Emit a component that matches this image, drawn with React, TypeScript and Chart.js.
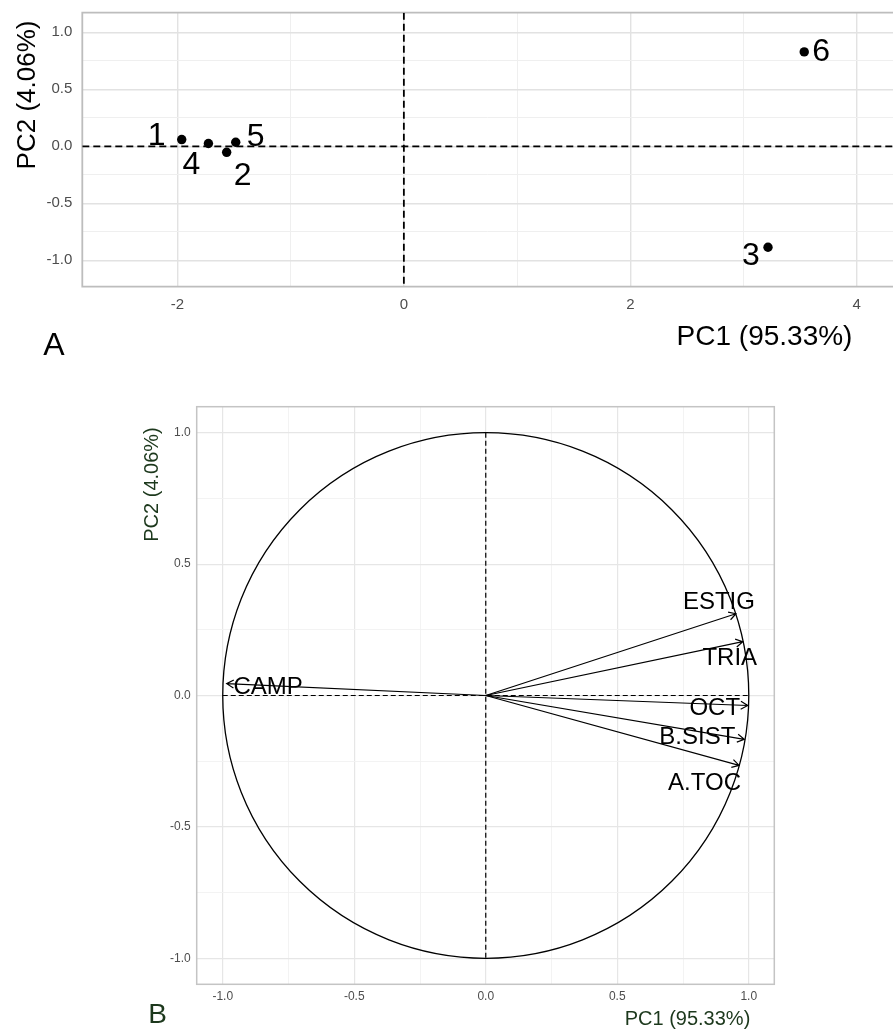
import React, { useEffect, useRef } from 'react';
import { Chart, registerables } from 'chart.js';

Chart.register(...registerables);

// ---------- Data (panel A: individuals) ----------
const sampleLabels = ['1', '2', '3', '4', '5', '6'];
const samplePC1 = [-1.962, -1.565, 3.216, -1.726, -1.485, 3.536];
const samplePC2 = [0.059, -0.053, -0.886, 0.024, 0.035, 0.828];

// ---------- Data (panel B: variables) ----------
const varNames = ['ESTIG', 'TRIA', 'OCT', 'B.SIST', 'A.TOC', 'CAMP'];
const varPC1 = [0.951, 0.977, 0.996, 0.983, 0.963, -0.985];
const varPC2 = [0.311, 0.205, -0.038, -0.167, -0.266, 0.045];

// ---------- Ticks ----------
const topXMajor = [-2, 0, 2, 4];
const topXMinor = [-1, 1, 3];
const topYMajor = [-1, -0.5, 0, 0.5, 1];
const topYMinor = [-0.75, -0.25, 0.25, 0.75];
const botMajor = [-1, -0.5, 0, 0.5, 1];
const botMinor = [-0.75, -0.25, 0.25, 0.75];

const xTitle = 'PC1 (95.33%)';
const yTitle = 'PC2 (4.06%)';

// ---------- Styling ----------
const FONT = "'Liberation Sans', Arial, sans-serif";
const TICK_COLOR = '#4d4d4d';
const GREEN = '#1c381c';

// label offsets (px) relative to the mark, same order as the data arrays
const sampleLabelOffsets: [number, number][] = [
  [-25, -6], [16, 21], [-17, 6], [-17, 19], [20, -8], [17, -2],
];
const varLabelOffsets: [number, number][] = [
  [-17, -13], [-13, 15], [-33, 1], [-47, -4], [-34.5, 16], [41.5, 2],
];

function drawText(
  ctx: CanvasRenderingContext2D, text: string, cx: number, cy: number,
  size: number, color: string, rotate = false,
) {
  ctx.save();
  ctx.font = `${size}px ${FONT}`;
  ctx.fillStyle = color;
  ctx.textAlign = 'center';
  ctx.textBaseline = 'alphabetic';
  const capHalf = 0.358 * size;
  if (rotate) {
    ctx.translate(cx + capHalf, cy);
    ctx.rotate(-Math.PI / 2);
    ctx.fillText(text, 0, 0);
  } else {
    ctx.fillText(text, cx, cy + capHalf);
  }
  ctx.restore();
}

function makeScale(
  axis: 'x' | 'y', min: number, max: number, major: number[], minor: number[],
  fmt: (v: number) => string, fontSize: number, pad: number, fit: number,
  majorColor: string, minorColor: string, majorW: number, minorW: number,
) {
  const all = [...major, ...minor].sort((a, b) => a - b);
  return {
    type: 'linear',
    min,
    max,
    afterBuildTicks: (s: any) => {
      s.ticks = all.map((v) => ({ value: v }));
    },
    afterFit: (s: any) => {
      if (axis === 'x') s.height = fit;
      else s.width = fit;
      s.paddingLeft = 0;
      s.paddingRight = 0;
      s.paddingTop = 0;
      s.paddingBottom = 0;
    },
    ticks: {
      autoSkip: false,
      maxRotation: 0,
      minRotation: 0,
      padding: pad,
      color: TICK_COLOR,
      font: { family: FONT, size: fontSize },
      callback: (v: any) => (major.includes(Number(v)) ? fmt(Number(v)) : ''),
    },
    grid: {
      drawTicks: false,
      color: (c: any) => (c.tick && major.includes(c.tick.value) ? majorColor : minorColor),
      lineWidth: (c: any) => (c.tick && major.includes(c.tick.value) ? majorW : minorW),
    },
    border: { display: false },
  };
}

const topPlugin = {
  id: 'topDecor',
  beforeDatasetsDraw(chart: any) {
    const { ctx, chartArea: a, scales } = chart;
    const x = scales.x, y = scales.y;
    ctx.save();
    // panel border (top, left, bottom; right side is cropped)
    ctx.strokeStyle = '#bdbdbd';
    ctx.lineWidth = 1.8;
    ctx.beginPath();
    ctx.moveTo(a.right + 2, a.top);
    ctx.lineTo(a.left, a.top);
    ctx.lineTo(a.left, a.bottom);
    ctx.lineTo(a.right + 2, a.bottom);
    ctx.stroke();
    // dashed reference lines
    ctx.beginPath();
    ctx.rect(a.left, a.top, a.right - a.left, a.bottom - a.top);
    ctx.clip();
    ctx.strokeStyle = '#000';
    ctx.lineWidth = 1.8;
    ctx.setLineDash([7, 4]);
    const x0 = x.getPixelForValue(0);
    const y0 = y.getPixelForValue(0);
    ctx.beginPath();
    ctx.moveTo(a.left, y0);
    ctx.lineTo(a.right, y0);
    ctx.moveTo(x0, a.top);
    ctx.lineTo(x0, a.bottom);
    ctx.stroke();
    ctx.restore();
  },
  afterDatasetsDraw(chart: any) {
    const { ctx } = chart;
    const meta = chart.getDatasetMeta(0);
    meta.data.forEach((el: any, i: number) => {
      const [dx, dy] = sampleLabelOffsets[i];
      drawText(ctx, sampleLabels[i], el.x + dx, el.y + dy, 32, '#000');
    });
  },
  afterDraw(chart: any) {
    const { ctx } = chart;
    drawText(ctx, yTitle, 25.7, 95, 26, '#000', true);
    drawText(ctx, xTitle, 764.5, 335, 28, '#000');
    drawText(ctx, 'A', 54, 343.5, 32, '#000');
  },
};

const BOT_TOP = 370;

const botPlugin = {
  id: 'botDecor',
  beforeDatasetsDraw(chart: any) {
    const { ctx, chartArea: a, scales } = chart;
    const x = scales.x, y = scales.y;
    const x0 = x.getPixelForValue(0);
    const y0 = y.getPixelForValue(0);
    const rx = x.getPixelForValue(1) - x0;
    const ry = y0 - y.getPixelForValue(1);
    ctx.save();
    // panel border
    ctx.strokeStyle = '#c4c4c4';
    ctx.lineWidth = 1.5;
    ctx.strokeRect(a.left, a.top, a.right - a.left, a.bottom - a.top);
    // dashed axes inside the circle
    ctx.strokeStyle = '#000';
    ctx.lineWidth = 1.2;
    ctx.setLineDash([5, 3]);
    ctx.beginPath();
    ctx.moveTo(x.getPixelForValue(-1), y0);
    ctx.lineTo(x.getPixelForValue(1), y0);
    ctx.moveTo(x0, y.getPixelForValue(1));
    ctx.lineTo(x0, y.getPixelForValue(-1));
    ctx.stroke();
    ctx.setLineDash([]);
    // correlation circle
    ctx.lineWidth = 1.3;
    ctx.beginPath();
    ctx.ellipse(x0, y0, rx, ry, 0, 0, Math.PI * 2);
    ctx.stroke();
    // arrows
    const meta = chart.getDatasetMeta(0);
    ctx.lineWidth = 1.2;
    meta.data.forEach((el: any) => {
      const tx = el.x, ty = el.y;
      const ang = Math.atan2(ty - y0, tx - x0);
      const L = 8, h = Math.PI / 6;
      ctx.beginPath();
      ctx.moveTo(x0, y0);
      ctx.lineTo(tx, ty);
      ctx.moveTo(tx - L * Math.cos(ang - h), ty - L * Math.sin(ang - h));
      ctx.lineTo(tx, ty);
      ctx.lineTo(tx - L * Math.cos(ang + h), ty - L * Math.sin(ang + h));
      ctx.stroke();
    });
    ctx.restore();
  },
  afterDatasetsDraw(chart: any) {
    const { ctx } = chart;
    const meta = chart.getDatasetMeta(0);
    meta.data.forEach((el: any, i: number) => {
      const [dx, dy] = varLabelOffsets[i];
      drawText(ctx, varNames[i], el.x + dx, el.y + dy, 24, '#000');
    });
  },
  afterDraw(chart: any) {
    const { ctx } = chart;
    drawText(ctx, yTitle, 150.8, 484.5 - BOT_TOP, 20, GREEN, true);
    drawText(ctx, xTitle, 687.5, 1017.8 - BOT_TOP, 20, GREEN);
    drawText(ctx, 'B', 157.5, 1013 - BOT_TOP, 28, GREEN);
  },
};

export default function App() {
  const topRef = useRef<HTMLCanvasElement>(null);
  const botRef = useRef<HTMLCanvasElement>(null);

  useEffect(() => {
    const fmt1 = (v: number) => v.toFixed(1);
    const c1 = new Chart(topRef.current as HTMLCanvasElement, {
      type: 'scatter',
      data: {
        datasets: [
          {
            data: samplePC1.map((v, i) => ({ x: v, y: samplePC2[i] })),
            backgroundColor: '#000',
            borderColor: '#000',
            pointRadius: 4.7,
            pointHoverRadius: 4.7,
            borderWidth: 0,
          },
        ],
      },
      options: {
        responsive: false,
        animation: false,
        devicePixelRatio: 1,
        events: [],
        layout: { autoPadding: false, padding: { top: 12.7, right: 0, left: 0, bottom: 0 } },
        plugins: { legend: { display: false }, tooltip: { enabled: false } },
        scales: {
          x: makeScale('x', -2.84, 4.32, topXMajor, topXMinor, (v) => String(v), 15, 9, 370 - 286.7,
            '#e2e2e2', '#efefef', 1.4, 1),
          y: makeScale('y', -1.232, 1.172, topYMajor, topYMinor, fmt1, 15, 10, 82.3,
            '#e2e2e2', '#efefef', 1.4, 1),
        } as any,
      },
      plugins: [topPlugin as any],
    });

    const c2 = new Chart(botRef.current as HTMLCanvasElement, {
      type: 'scatter',
      data: {
        datasets: [
          {
            data: varPC1.map((v, i) => ({ x: v, y: varPC2[i] })),
            pointRadius: 0,
            pointHoverRadius: 0,
            borderWidth: 0,
          },
        ],
      },
      options: {
        responsive: false,
        animation: false,
        devicePixelRatio: 1,
        events: [],
        layout: { autoPadding: false, padding: { top: 406.7 - BOT_TOP, right: 893 - 774.3, left: 0, bottom: 0 } },
        plugins: { legend: { display: false }, tooltip: { enabled: false } },
        scales: {
          x: makeScale('x', -1.099, 1.097, botMajor, botMinor, fmt1, 12, 5.5, 659 - (984.3 - BOT_TOP),
            '#e6e6e6', '#f2f2f2', 1.2, 0.9),
          y: makeScale('y', -1.099, 1.099, botMajor, botMinor, fmt1, 12, 6, 196.7,
            '#e6e6e6', '#f2f2f2', 1.2, 0.9),
        } as any,
      },
      plugins: [botPlugin as any],
    });

    return () => {
      c1.destroy();
      c2.destroy();
    };
  }, []);

  return (
    <div style={{ position: 'absolute', left: 0, top: 0, width: 893, height: 1029, background: '#fff' }}>
      <canvas ref={topRef} width={893} height={370} style={{ position: 'absolute', left: 0, top: 0 }} />
      <canvas ref={botRef} width={893} height={659} style={{ position: 'absolute', left: 0, top: BOT_TOP }} />
    </div>
  );
}
